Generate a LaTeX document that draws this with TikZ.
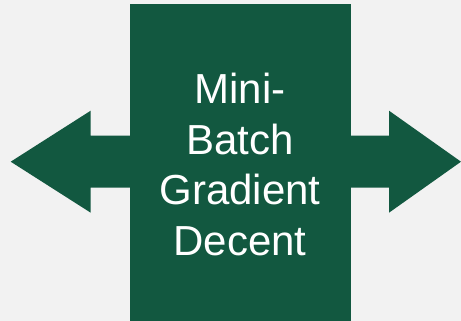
\documentclass[tikz,border=0pt]{standalone}
\usepackage{fontspec}
\setmainfont{Liberation Sans}
\definecolor{bggray}{HTML}{F2F2F2}
\definecolor{deepgreen}{HTML}{125840}
\begin{document}
\begin{tikzpicture}[x=1pt,y=1pt,
  shapefill/.style={fill=deepgreen,draw=none},
  label text/.style={text=white,align=center,inner sep=0pt,
    font=\fontsize{42pt}{50.7pt}\selectfont}]
  % canvas
  \fill[bggray] (0,0) rectangle (461,321);
  \useasboundingbox (0,0) rectangle (461,321);
  % central block
  \fill[shapefill] (129.5,0) rectangle (350.7,317);
  % left arrow
  \fill[shapefill] (140,185.3) -- (90.7,185.3) -- (90.7,210.3) -- (10.7,159.3)
    -- (90.7,108.3) -- (90.7,133.3) -- (140,133.3) -- cycle;
  % right arrow
  \fill[shapefill] (340,185.3) -- (389,185.3) -- (389,210.3) -- (461,159.3)
    -- (389,108.3) -- (389,133.3) -- (340,133.3) -- cycle;
  % label
  \node[label text,anchor=north] (title) at (240,248.3)
    {Mini-\\Batch\\Gradient\\Decent};
\end{tikzpicture}
\end{document}
